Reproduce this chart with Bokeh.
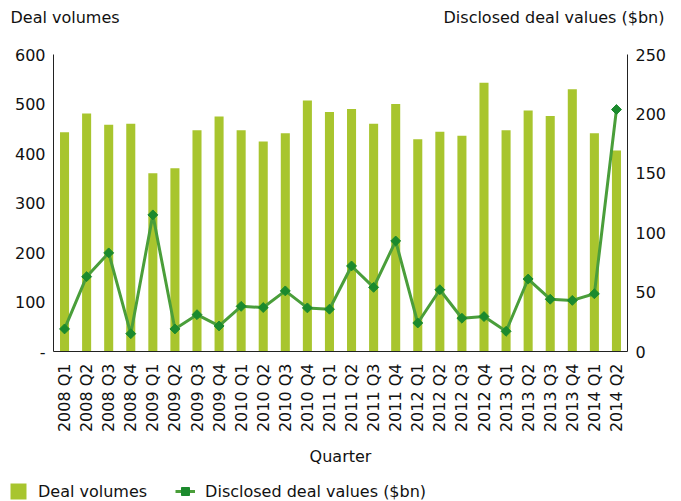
import math
from bokeh.plotting import figure
from bokeh.models import (ColumnDataSource, Range1d, LinearAxis, FactorRange,
                          Legend, LegendItem, Label, FixedTicker)
from bokeh.layouts import column
from bokeh.embed import file_html
from bokeh.resources import INLINE

quarters = ["2008 Q1", "2008 Q2", "2008 Q3", "2008 Q4",
            "2009 Q1", "2009 Q2", "2009 Q3", "2009 Q4",
            "2010 Q1", "2010 Q2", "2010 Q3", "2010 Q4",
            "2011 Q1", "2011 Q2", "2011 Q3", "2011 Q4",
            "2012 Q1", "2012 Q2", "2012 Q3", "2012 Q4",
            "2013 Q1", "2013 Q2", "2013 Q3", "2013 Q4",
            "2014 Q1", "2014 Q2"]
deal_volumes = [443, 481, 458, 460, 360, 370, 447, 475, 447, 424, 441, 507,
                484, 490, 460, 500, 429, 444, 436, 543, 447, 487, 476, 530,
                441, 406]
deal_values = [19, 63, 83, 15, 115, 19, 31, 21.5, 38, 37, 51, 36.7,
               35.6, 72, 54, 93, 24, 52, 28, 29.4, 17, 61, 44, 43,
               48.6, 203.7]
left_ticks = [0, 100, 200, 300, 400, 500, 600]
right_ticks = [0, 50, 100, 150, 200, 250]
left_title = "Deal volumes"
right_title = "Disclosed deal values ($bn)"
x_title = "Quarter"

FONT = "DejaVu Sans"
BAR = "#a8c52e"
LINE = "#4a9e3a"
MARK = "#1b8a2d"
TXT = "#111111"
W = 681


def bare(height, xr, yr):
    f = figure(width=W, height=height, x_range=xr, y_range=yr,
               min_border=0, x_axis_location=None, y_axis_location=None,
               output_backend="svg", toolbar_location=None)
    f.frame_align = False
    f.outline_line_color = None
    f.xgrid.grid_line_color = None
    f.ygrid.grid_line_color = None
    return f


# ---- header with the two axis titles
head = bare(40, Range1d(0, W), Range1d(40, 0))
head.add_layout(Label(x=10, y=17, text=left_title, text_font=FONT,
                      text_font_size="16px", text_color=TXT,
                      text_baseline="middle", text_align="left"))
head.add_layout(Label(x=664, y=17, text=right_title, text_font=FONT,
                      text_font_size="16px", text_color=TXT,
                      text_baseline="middle", text_align="right"))

# ---- main chart
src = ColumnDataSource(dict(q=quarters, vol=deal_volumes, val=deal_values))

p = figure(x_range=FactorRange(factors=quarters, range_padding=0),
           y_range=Range1d(0, 600),
           frame_width=574, frame_height=297,
           min_border_left=53, min_border_right=54,
           min_border_top=14, min_border_bottom=129,
           output_backend="svg", toolbar_location=None)
p.extra_y_ranges = {"val": Range1d(0, 250)}
p.outline_line_color = None
p.xgrid.grid_line_color = None
p.ygrid.grid_line_color = None

p.vbar(x="q", top="vol", width=0.41, source=src,
       fill_color=BAR, line_color=None)
p.line(x="q", y="val", source=src, y_range_name="val",
       line_color=LINE, line_width=3)
p.scatter(x="q", y="val", source=src, y_range_name="val",
          marker="square", angle=math.pi / 4, size=7,
          fill_color=MARK, line_color=MARK)

yl = p.yaxis[0]
yl.ticker = FixedTicker(ticks=left_ticks)
yl.major_label_overrides = {0: "-"}
ry = LinearAxis(y_range_name="val", ticker=FixedTicker(ticks=right_ticks))
p.add_layout(ry, "right")
xa = p.xaxis[0]
xa.major_label_orientation = math.pi / 2
xa.axis_label = x_title
for ax in (yl, ry, xa):
    ax.major_tick_line_color = None
    ax.minor_tick_line_color = None
    ax.major_tick_in = 0
    ax.major_tick_out = 0
    ax.axis_line_color = "#222222"
    ax.axis_line_width = 1
    ax.major_label_text_font = FONT
    ax.major_label_text_font_size = "16px"
    ax.major_label_text_color = TXT
    ax.major_label_standoff = 8
xa.major_label_standoff = 12
xa.axis_label_text_font = FONT
xa.axis_label_text_font_size = "16px"
xa.axis_label_text_font_style = "normal"
xa.axis_label_text_color = TXT
xa.axis_label_standoff = 12

# ---- footer legend (sample glyphs sit outside the visible range)
foot = bare(21, Range1d(0, 1), Range1d(0, 1))
sample = ColumnDataSource(dict(x=[-10], y=[-10], t=[-5]))
lb = foot.vbar(x="x", top="t", bottom="y", width=0.5, source=sample,
               fill_color=BAR, line_color=None)
ll = foot.line(x="x", y="y", source=sample, line_color=LINE, line_width=3)
lm = foot.scatter(x="x", y="y", source=sample, marker="square",
                  angle=math.pi / 4, size=6, fill_color=MARK, line_color=MARK)
legend = Legend(items=[LegendItem(label=left_title, renderers=[lb]),
                       LegendItem(label=right_title, renderers=[ll, lm])],
                orientation="horizontal", location=(8, 0),
                glyph_width=20, glyph_height=20, label_height=20,
                label_standoff=10, spacing=28,
                padding=0, margin=0, border_line_color=None,
                background_fill_alpha=0,
                label_text_font=FONT, label_text_font_size="16px",
                label_text_color=TXT)
foot.add_layout(legend, "center")

layout = column(head, p, foot, spacing=0)
open("out.html", "w").write(file_html(layout, INLINE))
